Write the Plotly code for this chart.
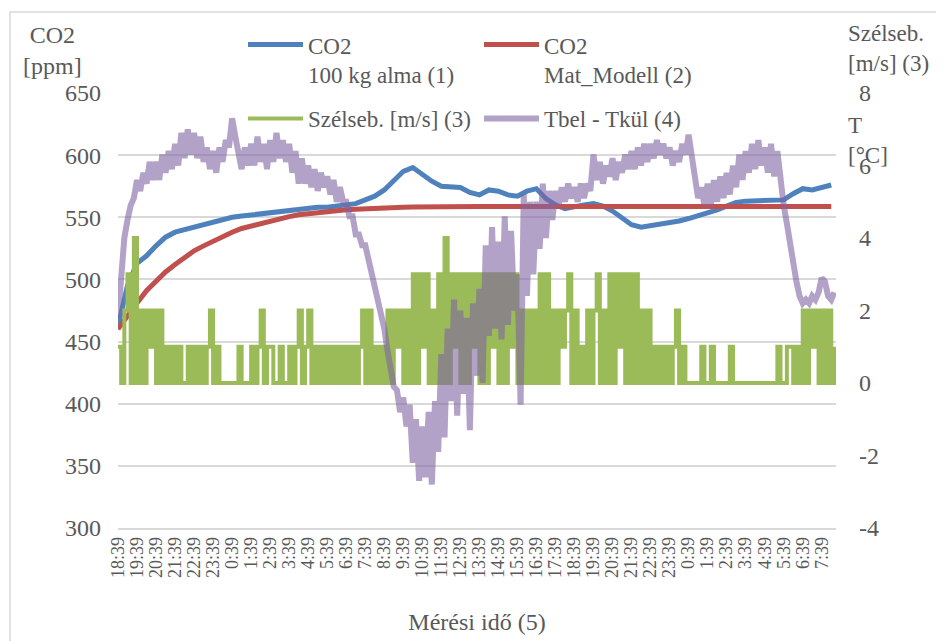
import plotly.graph_objects as go

# Tick labels of the time axis (one per hour, first label at 18:39)
time_labels = [
    "18:39", "19:39", "20:39", "21:39", "22:39", "23:39",
    "0:39", "1:39", "2:39", "3:39", "4:39", "5:39", "6:39", "7:39", "8:39", "9:39",
    "10:39", "11:39", "12:39", "13:39", "14:39", "15:39", "16:39", "17:39",
    "18:39", "19:39", "20:39", "21:39", "22:39", "23:39",
    "0:39", "1:39", "2:39", "3:39", "4:39", "5:39", "6:39", "7:39",
]

# right axis ticks (wind speed / temperature difference), written with a plain hyphen
right_ticks = [-4, -2, 0, 2, 4, 6, 8]
right_tick_text = ["-4", "-2", "0", "2", "4", "6", "8"]

# CO2 measured, 100 kg apple [ppm], one value every 30 minutes
co2_meres = [
    462, 495, 513, 519, 527, 534, 538, 540, 543, 544,
    547, 549, 550, 551, 552, 553, 553, 554, 555, 556,
    557, 558, 558, 559, 560, 561, 564, 567, 572, 580,
    587, 590, 584, 579, 575, 574, 574, 570, 568, 572,
    571, 568, 567, 571, 573, 565, 560, 557, 559, 560,
    561, 559, 555, 550, 544, 542, 543, 544, 545, 547,
    549, 551, 553, 556, 559, 562, 563, 563, 564, 564,
    564, 569, 573, 572, 574, 576,
]

# CO2 model (Mat_Modell) [ppm], one value every 30 minutes
co2_modell = [
    460, 471, 481, 491, 499, 506, 512, 518, 523, 527,
    531, 535, 538, 541, 543, 545.5, 547.5, 549, 550.5, 552,
    553, 554, 555, 555.5, 556, 556.5, 557, 557.3, 557.6, 557.9,
    558.1, 558.3, 558.5, 558.6, 558.6, 558.6, 558.7, 558.7, 558.7, 558.7,
    558.7, 558.7, 558.7, 558.7, 558.7, 558.7, 558.7, 558.7, 558.7, 558.7,
    558.7, 558.7, 558.7, 558.7, 558.7, 558.7, 558.7, 558.7, 558.7, 558.7,
    558.7, 558.7, 558.7, 558.7, 558.7, 558.7, 558.7, 558.7, 558.7, 558.7,
    558.7, 558.7, 558.7, 558.7, 558.7, 558.7,
]

# Wind speed [m/s], one value every 10 minutes (one row = one hour)
szelseb = [
    1, 0, 2, 3, 0, 4,
    0, 2, 0, 2, 1, 2,
    0, 2, 0, 1, 0, 1,
    0, 1, 0, 0, 1, 0,
    1, 0, 1, 0, 1, 2,
    0, 1, 0, 0, 0, 0,
    0, 0, 1, 0, 0, 0,
    1, 0, 1, 2, 0, 1,
    1, 0, 0, 1, 0, 0,
    1, 0, 1, 2, 0, 1,
    2, 0, 1, 0, 1, 0,
    1, 0, 1, 0, 1, 0,
    1, 0, 1, 0, 1, 2,
    0, 2, 0, 1, 0, 1,
    0, 2, 0, 2, 1, 2,
    0, 2, 0, 3, 0, 3,
    1, 3, 0, 2, 0, 3,
    0, 4, 0, 3, 1, 3,
    0, 3, 0, 3, 1, 3,
    0, 3, 0, 3, 1, 3,
    0, 3, 0, 3, 1, 3,
    0, 2, 0, 2, 0, 2,
    0, 3, 0, 3, 0, 2,
    0, 2, 1, 2, 3, 0,
    2, 0, 1, 0, 2, 0,
    2, 3, 0, 2, 0, 3,
    0, 3, 1, 3, 0, 3,
    0, 3, 0, 2, 0, 2,
    0, 1, 0, 1, 0, 1,
    0, 1, 2, 0, 1, 0,
    0, 0, 0, 0, 1, 0,
    0, 1, 0, 0, 0, 0,
    0, 1, 0, 0, 0, 0,
    0, 0, 0, 0, 0, 0,
    0, 0, 0, 0, 1, 0,
    0, 1, 1, 0, 1, 0,
    2, 0, 2, 1, 2, 0,
    2, 0, 2, 0, 1,
]

# Inside minus outside temperature [°C], one value every 10 minutes
t_kulonbseg = [
    1.8, 3.0, 4.0, 4.5, 4.9, 5.1,
    5.6, 5.3, 5.8, 5.5, 6.1, 5.6,
    6.1, 5.6, 6.3, 5.8, 6.4, 5.9,
    6.6, 6.0, 6.9, 6.2, 7.0, 6.3,
    6.9, 6.2, 6.8, 6.1, 6.5, 5.9,
    6.4, 5.8, 6.5, 6.1, 6.7, 6.5,
    7.3, 6.8, 6.3, 5.9, 6.5, 6.0,
    6.6, 6.0, 6.8, 6.1, 6.6, 5.9,
    6.7, 6.1, 6.9, 6.2, 6.7, 6.1,
    6.6, 5.8, 6.4, 5.5, 6.2, 5.5,
    6.0, 5.4, 5.9, 5.3, 5.8, 5.4,
    5.7, 5.2, 5.6, 5.0, 5.4, 5.0,
    5.0, 4.6, 4.6, 4.1, 4.1, 3.8,
    3.8, 3.4, 3.1, 2.6, 2.2, 1.8,
    1.5, 0.9, 0.4, -0.1, -0.2, -0.8,
    -0.4, -1.2, -0.6, -2.2, -1.0, -2.7,
    -1.2, -2.6, -0.8, -2.8, -0.5, -1.9,
    0.8, -1.5, 1.5, -0.5, 2.3, -0.9,
    2.0, -0.3, 1.8, -1.3, 2.2, 0.2,
    2.6, 0.0, 3.8, 1.3, 4.3, 1.5,
    3.9, 1.2, 4.6, 1.6, 4.2, 2.0,
    3.0, -0.6, 5.2, 2.4, 5.0, 3.0,
    5.0, 3.7, 5.5, 4.0, 5.3, 4.5,
    5.3, 4.9, 5.4, 5.0, 5.5, 5.1,
    5.4, 5.0, 5.5, 5.1, 5.5, 5.3,
    6.3, 5.6, 6.1, 5.5, 6.0, 5.7,
    6.2, 5.6, 6.1, 5.8, 6.3, 5.9,
    6.4, 5.9, 6.5, 6.0, 6.6, 6.1,
    6.6, 6.2, 6.7, 6.3, 6.6, 6.2,
    6.5, 6.0, 6.4, 6.1, 6.6, 6.3,
    6.85, 6.2, 5.7, 5.1, 5.4, 4.9,
    5.5, 4.9, 5.6, 5.0, 5.7, 5.1,
    5.8, 5.2, 6.0, 5.4, 6.3, 5.6,
    6.4, 5.8, 6.6, 5.9, 6.7, 6.0,
    6.5, 5.8, 6.6, 5.7, 6.4, 5.5,
    4.9, 4.4, 3.8, 3.3, 2.8, 2.4,
    2.2, 2.3, 2.2, 2.4, 2.3, 2.5,
    2.9, 2.8, 2.4, 2.3, 2.5,
]

FONT = "Liberation Serif"
TEXT_COLOR = "#595959"
GRID_COLOR = "#d9d9d9"

# the page body adds an 8 px margin; positions below are screen pixels
PAGE_OFFSET = 8
PLOT_L, PLOT_R, PLOT_T, PLOT_B = 118, 836, 93, 528.5


def px_to_paper(px, py):
    return (px - PLOT_L) / (PLOT_R - PLOT_L), (PLOT_B - py) / (PLOT_B - PLOT_T)


# hours since 18:39
x_half_hour = [j / 2 for j in range(len(co2_meres))]
x_ten_min = [i / 6 for i in range(len(szelseb))]

fig = go.Figure()

fig.add_trace(
    go.Scatter(
        x=x_half_hour,
        y=co2_meres,
        mode="lines",
        name="CO2<br>100 kg alma (1)",
        line=dict(color="#4F81BD", width=5),
        legend="legend",
    )
)
fig.add_trace(
    go.Scatter(
        x=x_half_hour,
        y=co2_modell,
        mode="lines",
        name="CO2<br>Mat_Modell (2)",
        line=dict(color="#C0504D", width=5),
        legend="legend",
    )
)
fig.add_trace(
    go.Scatter(
        x=x_ten_min,
        y=szelseb,
        mode="lines",
        name="Szélseb. [m/s] (3)",
        line=dict(color="#9BBB59", width=4, shape="hv"),
        yaxis="y2",
        legend="legend2",
    )
)
fig.add_trace(
    go.Scatter(
        x=x_ten_min[: len(t_kulonbseg)],
        y=t_kulonbseg,
        mode="lines",
        name="Tbel - Tkül (4)",
        line=dict(color="rgba(128,100,162,0.6)", width=6),
        yaxis="y2",
        legend="legend2",
    )
)

legend_style = dict(
    orientation="h",
    xanchor="left",
    yanchor="top",
    bgcolor="rgba(0,0,0,0)",
    font=dict(family=FONT, size=23, color=TEXT_COLOR),
    itemwidth=55,
    entrywidth=166,
    entrywidthmode="pixels",
    valign="top",
    tracegroupgap=0,
)
lx, ly1 = px_to_paper(243, 23)
_, ly2 = px_to_paper(243, 97)

# texts around the plot area: axis titles of the two y axes
left_x, left_y = px_to_paper(52, 50)
right_x, right_y = px_to_paper(846, 48)
t_x, t_y = px_to_paper(846, 141)
box_x0, box_y1 = px_to_paper(10, 12)
box_x1, box_y0 = px_to_paper(960, 660)

fig.update_layout(
    width=944,
    height=641,
    margin=dict(
        l=PLOT_L - PAGE_OFFSET,
        r=944 - (PLOT_R - PAGE_OFFSET),
        t=PLOT_T - PAGE_OFFSET,
        b=641 - (PLOT_B - PAGE_OFFSET),
    ),
    paper_bgcolor="white",
    plot_bgcolor="white",
    font=dict(family=FONT, size=22, color=TEXT_COLOR),
    legend=dict(legend_style, x=lx, y=ly1),
    legend2=dict(legend_style, x=lx, y=ly2),
    xaxis=dict(
        range=[0, 37.75],
        tickmode="array",
        tickvals=list(range(len(time_labels))),
        ticktext=time_labels,
        tickangle=-90,
        tickfont=dict(family=FONT, size=18, color=TEXT_COLOR),
        showgrid=False,
        zeroline=False,
        showline=True,
        linecolor=GRID_COLOR,
        linewidth=1.5,
        ticks="",
        title=dict(text="Mérési idő (5)", font=dict(family=FONT, size=24, color=TEXT_COLOR), standoff=36),
        automargin=False,
    ),
    yaxis=dict(
        range=[300, 650],
        dtick=50,
        tickfont=dict(family=FONT, size=24, color=TEXT_COLOR),
        gridcolor=GRID_COLOR,
        gridwidth=1.5,
        zeroline=False,
        showline=False,
        ticklabelstandoff=16,
        automargin=False,
    ),
    yaxis2=dict(
        range=[-4, 8],
        tickmode="array",
        tickvals=right_ticks,
        ticktext=right_tick_text,
        overlaying="y",
        side="right",
        tickfont=dict(family=FONT, size=24, color=TEXT_COLOR),
        showgrid=False,
        zeroline=False,
        showline=False,
        ticklabelstandoff=22,
        automargin=False,
    ),
    annotations=[
        dict(
            text="CO2<br>[ppm]", x=left_x, y=left_y, xref="paper", yref="paper",
            xanchor="center", yanchor="middle", showarrow=False,
            font=dict(family=FONT, size=24, color=TEXT_COLOR), align="center",
        ),
        dict(
            text="Szélseb.<br>[m/s] (3)", x=right_x, y=right_y, xref="paper", yref="paper",
            xanchor="left", yanchor="middle", showarrow=False,
            font=dict(family=FONT, size=23, color=TEXT_COLOR), align="left",
        ),
        dict(
            text="T<br>[°C]", x=t_x, y=t_y, xref="paper", yref="paper",
            xanchor="left", yanchor="middle", showarrow=False,
            font=dict(family=FONT, size=23, color=TEXT_COLOR), align="left",
        ),
    ],
    shapes=[
        dict(
            type="rect", xref="paper", yref="paper",
            x0=box_x0, x1=box_x1, y0=box_y0, y1=box_y1,
            line=dict(color=GRID_COLOR, width=1.5), layer="below",
        )
    ],
)

fig.write_html("out.html")
